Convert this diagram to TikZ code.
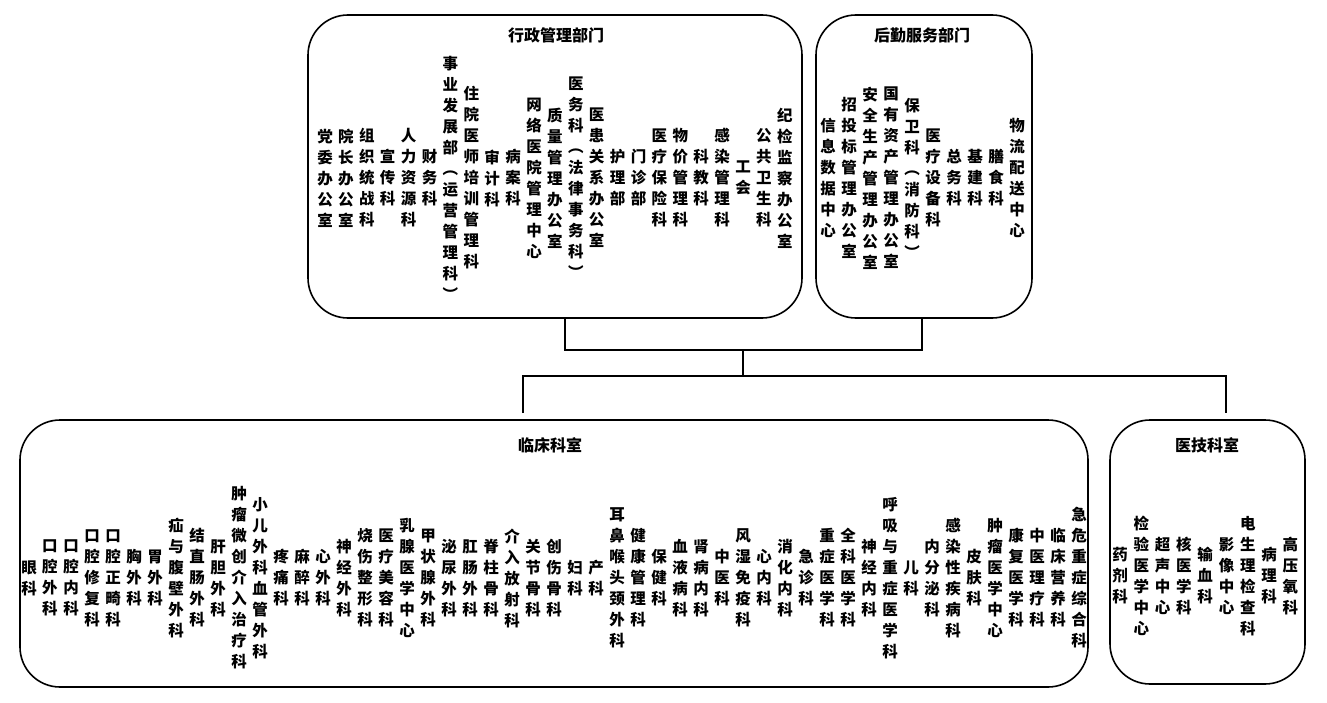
\documentclass[tikz,border=0pt]{standalone}
\usepackage{fontspec}
\newfontfamily\cjk{Noto Sans CJK SC}
\usetikzlibrary{positioning}
\makeatletter
\newcommand\vtext[1]{\vbox{\baselineskip=21pt\lineskiplimit=-20pt\@tfor\ch:=#1\do{\hbox to 17pt{\hss\ch\hss}}}}
\makeatother
\tikzset{
  deptbox/.style={draw, line width=1.6pt, rounded corners=40pt},
  dept/.style={inner sep=0pt, font=\cjk\bfseries\fontsize{15.5}{21}\selectfont},
  boxtitle/.style={font=\cjk\bfseries\fontsize{16}{20}\selectfont},
  link/.style={line width=1.6pt}
}
\begin{document}
\begin{tikzpicture}[x=1pt, y=-1pt]
\useasboundingbox (0,0) rectangle (1327,703);
% boxes
\draw[deptbox] (308,15) rectangle (802,318);
\draw[deptbox] (816,15) rectangle (1032,318);
\draw[deptbox] (20,420) rectangle (1088,687);
\draw[deptbox] (1110,420) rectangle (1305,684);
\node[boxtitle] (admin) at (556,35) {行政管理部门};
\node[boxtitle] (logis) at (922,35) {后勤服务部门};
\node[boxtitle] (clinic) at (550,445) {临床科室};
\node[boxtitle] (tech) at (1207,445) {医技科室};
% connectors
\coordinate (adminbot) at (565,318);
\coordinate (logisbot) at (922,318);
\coordinate (joinA) at (565,350);
\coordinate (joinB) at (922,350);
\coordinate (mid) at (743,350);
\coordinate (split) at (743,376);
\coordinate (splitL) at (523,376);
\coordinate (splitR) at (1226,376);
\coordinate (clinictop) at (523,413);
\coordinate (techtop) at (1226,413);
\draw[link] (adminbot) -- (joinA) -- (joinB) -- (logisbot);
\draw[link] (mid) -- (split);
\draw[link] (clinictop) -- (splitL) -- (splitR) -- (techtop);
% administration
\foreach \t [count=\i] in {党委办公室,院长办公室,组织统战科,宣传科,人力资源科,财务科,
  事业发展部︵运营管理科︶,住院医师培训管理科,审计科,病案科,网络医院管理中心,质量管理办公室,
  医务科︵法律事务科︶,医患关系办公室,护理部,门诊部,医疗保险科,物价管理科,科教科,感染管理科,
  工会,公共卫生科,纪检监察办公室}
  \node[dept] (adm\i) at ({325+(\i-1)*20.9},178) {\expandafter\vtext\expandafter{\t}};
% logistics
\foreach \t [count=\i] in {信息数据中心,招投标管理办公室,安全生产管理办公室,国有资产管理办公室,
  保卫科︵消防科︶,医疗设备科,总务科,基建科,膳食科,物流配送中心}
  \node[dept] (log\i) at ({828+(\i-1)*21},178) {\expandafter\vtext\expandafter{\t}};
% clinical
\foreach \t [count=\i] in {眼科,口腔外科,口腔内科,口腔修复科,口腔正畸科,胸外科,胃外科,疝与腹壁外科,
  结直肠外科,肝胆外科,肿瘤微创介入治疗科,小儿外科血管外科,疼痛科,麻醉科,心外科,神经外科,
  烧伤整形科,医疗美容科,乳腺医学中心,甲状腺外科,泌尿外科,肛肠外科,脊柱骨科,介入放射科,
  关节骨科,创伤骨科,妇科,产科,耳鼻喉头颈外科,健康管理科,保健科,血液病科,肾病内科,中医科,
  风湿免疫科,心内科,消化内科,急诊科,重症医学科,全科医学科,神经内科,呼吸与重症医学科,儿科,
  内分泌科,感染性疾病科,皮肤科,肿瘤医学中心,康复医学科,中医理疗科,临床营养科,急危重症综合科}
  \node[dept] (cli\i) at ({29+(\i-1)*21.0},578) {\expandafter\vtext\expandafter{\t}};
% medical technology
\foreach \t [count=\i] in {药剂科,检验医学中心,超声中心,核医学科,输血科,影像中心,电生理检查科,病理科,高压氧科}
  \node[dept] (tec\i) at ({1120+(\i-1)*21.3},576) {\expandafter\vtext\expandafter{\t}};
\end{tikzpicture}
\end{document}
